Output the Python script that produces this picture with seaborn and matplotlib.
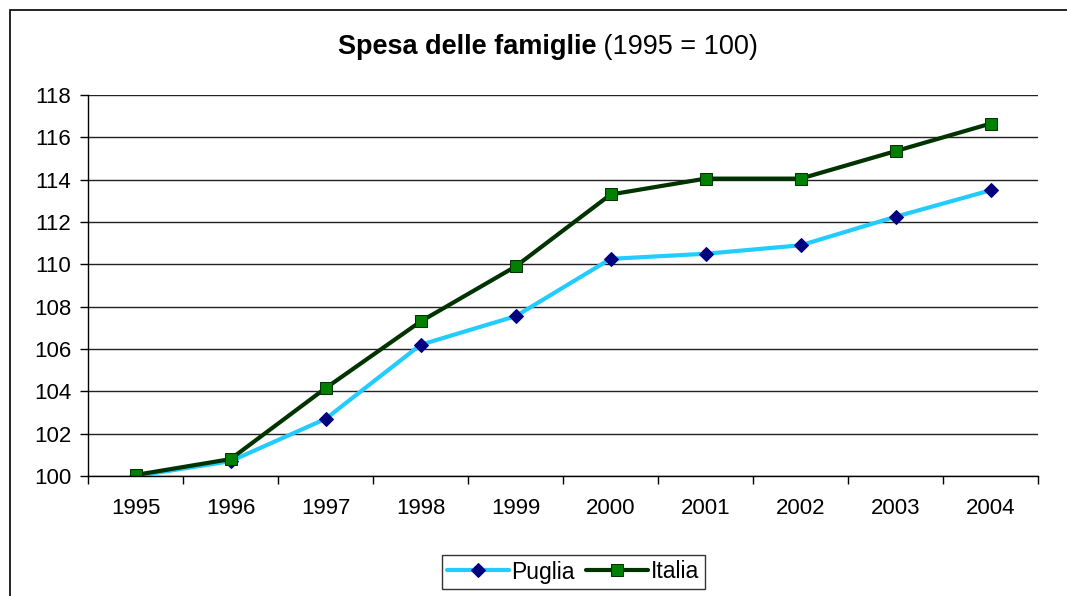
import matplotlib
matplotlib.use("Agg")
import matplotlib.pyplot as plt
import seaborn as sns
import pandas as pd
import numpy as np
from matplotlib.patches import Rectangle

# data
years = ["1995", "1996", "1997", "1998", "1999", "2000", "2001", "2002", "2003", "2004"]
puglia = [100.0, 100.7, 102.7, 106.2, 107.55, 110.26, 110.5, 110.9, 112.25, 113.5]
italia = [100.05, 100.8, 104.15, 107.3, 109.9, 113.3, 114.05, 114.05, 115.35, 116.65]
y_ticks = list(range(100, 119, 2))

sns.set_style("white")
plt.rcParams['font.family'] = ['Liberation Sans', 'DejaVu Sans']
plt.rcParams['text.color'] = 'black'
plt.rcParams['xtick.color'] = 'black'
plt.rcParams['ytick.color'] = 'black'

df = pd.DataFrame({"pos": list(range(len(years))) * 2,
                   "valore": puglia + italia,
                   "serie": ["Puglia"] * len(years) + ["Italia"] * len(years)})

fig = plt.figure(figsize=(10.67, 5.96), dpi=100)
ax = fig.add_axes([0.0825, 0.2013, 0.8905, 0.6393])

sns.lineplot(data=df[df.serie == "Puglia"], x="pos", y="valore", ax=ax,
             color="#22CCFF", lw=3, marker="D", markersize=7,
             markerfacecolor="#000080", markeredgecolor="#000080", label="Puglia")
sns.lineplot(data=df[df.serie == "Italia"], x="pos", y="valore", ax=ax,
             color="#003300", lw=3, marker="s", markersize=8,
             markerfacecolor="#008000", markeredgecolor="#003300", label="Italia")

ax.set_xlim(-0.5, len(years) - 0.5)
ax.set_ylim(100, 118)
ax.set_yticks(y_ticks)
ax.set_xticks(range(len(years)))
ax.set_xticklabels(years)
ax.set_xticks(np.arange(-0.5, len(years)), minor=True)
ax.tick_params(axis="x", which="major", bottom=True, length=0, labelsize=16, labelcolor="black", pad=16)
ax.tick_params(axis="x", which="minor", bottom=True, length=6, width=1, direction="out", color="black")
ax.tick_params(axis="y", left=True, length=6, width=1, direction="out", color="black",
               labelsize=16, labelcolor="black", pad=6)
ax.set_xlabel("")
ax.set_ylabel("")
ax.grid(axis="y", color="#222222", lw=1)
ax.set_axisbelow(True)
for s in ["top", "right"]:
    ax.spines[s].set_visible(False)
for s in ["left", "bottom"]:
    ax.spines[s].set_color("black")
    ax.spines[s].set_linewidth(1)

# title: bold part + normal part
t1 = fig.text(0.5, 1 - 47 / 596, "Spesa delle famiglie", ha="left", va="center", fontsize=19.5, fontweight="bold")
t2 = fig.text(0.5, 1 - 47 / 596, " (1995 = 100)", ha="left", va="center", fontsize=19.5)
fig.canvas.draw()
r = fig.canvas.get_renderer()
w1 = t1.get_window_extent(r).width
w2 = t2.get_window_extent(r).width
x0 = 548 - (w1 + w2) / 2
t1.set_x(x0 / 1067)
t2.set_x((x0 + w1) / 1067)

leg = ax.legend(loc="center", bbox_to_anchor=(573 / 1067, 1 - 572 / 596), bbox_transform=fig.transFigure,
                ncol=2, frameon=True, fancybox=False, fontsize=16.5, handlelength=2.7,
                handletextpad=0.1, columnspacing=0.5, borderpad=0.25, borderaxespad=0)
leg.get_frame().set_edgecolor("black")
leg.get_frame().set_linewidth(1)

# outer chart border
fig.patches.append(Rectangle((10 / 1067, -0.05), 1.1, 1 - 10 / 596 + 0.05,
                             transform=fig.transFigure, fill=False, ec="black", lw=1.2))

fig.savefig("out.png", dpi=100)
